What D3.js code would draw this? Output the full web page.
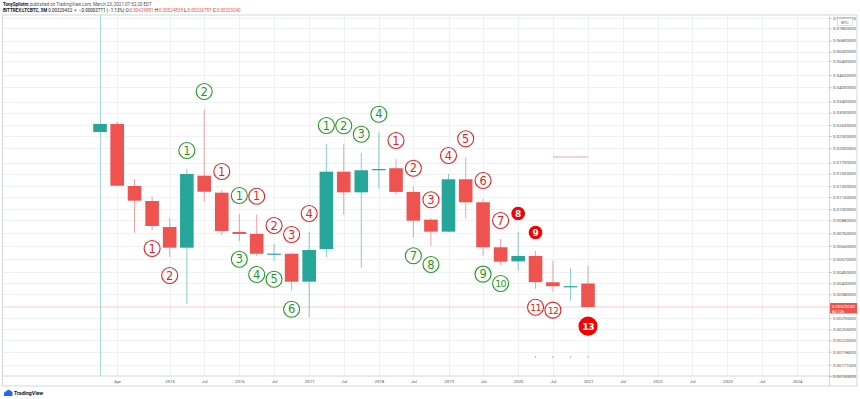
<!DOCTYPE html>
<html>
<head>
<meta charset="utf-8">
<script src="https://cdn.jsdelivr.net/npm/d3@7"></script>
<style>
  body { margin: 0; background: #fff; }
  svg { display: block; font-family: Roboto, "Noto Sans", sans-serif; }
</style>
</head>
<body>
<svg id="chart"></svg>
<script>
// quarterly bars, BITTREX:LTCBTC
var quarters = ["2014-01","2014-04","2014-07","2014-10","2015-01","2015-04","2015-07","2015-10",
  "2016-01","2016-04","2016-07","2016-10","2017-01","2017-04","2017-07","2017-10",
  "2018-01","2018-04","2018-07","2018-10","2019-01","2019-04","2019-07","2019-10",
  "2020-01","2020-04","2020-07","2020-10","2021-01"];
var opens  = [0.02405,0.02634,0.01302,0.01098,0.00817,0.00646,0.01464,0.01207,
  0.00772,0.00755,0.00602,0.00603,0.00439,0.00636,0.01532,0.01212,
  0.01557,0.01593,0.01217,0.00888,0.00775,0.01405,0.01082,0.00649,
  0.00553,0.00588,0.00436,0.004165,0.00429881];
var highs  = [0.02640,0.02716,0.01410,0.01153,0.00905,0.01580,0.03089,0.01244,
  0.00947,0.00940,0.00674,0.00608,0.00772,0.02099,0.02092,0.01901,
  0.02386,0.01770,0.01292,0.00902,0.01492,0.01804,0.01123,0.00713,
  0.00772,0.00622,0.00557,0.00511,0.00524838];
var lows   = [0.02400,0.01300,0.00766,0.00790,0.00581,0.00341,0.01089,0.00746,
  0.00699,0.00588,0.00557,0.00396,0.00294,0.00581,0.00937,0.00515,
  0.01263,0.01180,0.00727,0.00659,0.00772,0.00902,0.00590,0.00531,
  0.00497,0.00405,0.00392,0.00354,0.00326787];
var closes = [0.02634,0.01306,0.01102,0.00827,0.00646,0.01492,0.01220,0.00781,
  0.00755,0.00603,0.00604,0.00439,0.00629,0.01532,0.01212,0.01557,
  0.01580,0.01217,0.00878,0.00775,0.01405,0.01082,0.00649,0.00551,
  0.00588,0.00437,0.00417,0.004172,0.0032924];

// TD sequential counts: [bar number (1 based), count, colour]
var tdAbove = [[6,"1","g"],[7,"2","g"],[8,"1","r"],[9,"1","g"],[10,"1","r"],[11,"2","r"],
  [12,"3","r"],[13,"4","r"],[14,"1","g"],[15,"2","g"],[16,"3","g"],[17,"4","g"],
  [18,"1","r"],[19,"2","r"],[20,"3","r"],[21,"4","r"],[22,"5","r"],[23,"6","r"],
  [24,"7","r"],[25,"8","rf"],[26,"9","rf"]];
var tdBelow = [[4,"1","r"],[5,"2","r"],[9,"3","g"],[10,"4","g"],[11,"5","g"],[12,"6","g"],
  [19,"7","g"],[20,"8","g"],[23,"9","g"],[24,"10","g"],[26,"11","r"],[27,"12","r"],
  [29,"13","rfb"]];

var priceTicks = [0.088,0.078,0.068,0.060,0.054,0.046,0.040,0.034,0.030,0.026,0.023,0.020,
  0.017,0.015,0.013,0.0115,0.010,0.0088,0.0076,0.0066,0.0057,0.0049,0.0043,0.0038,
  0.0029,0.00255,0.00225,0.00198,0.00171,0.0015];
var timeTicks = ["2014-04","2015-01","2015-07","2016-01","2016-07","2017-01","2017-07","2018-01",
  "2018-07","2019-01","2019-07","2020-01","2020-07","2021-01","2021-07","2022-01","2022-07",
  "2023-01","2023-07","2024-01"];
var timeLabels = ["Apr","2015","Jul","2016","Jul","2017","Jul","2018","Jul","2019","Jul","2020",
  "Jul","2021","Jul","2022","Jul","2023","Jul","2024"];

// drawings on the chart
var levelLine = {from: "2020-07", to: "2021-01", value: 0.0181};
var dotQuarters = ["2020-07","2020-10","2020-12","2021-01"];
var dotValue = 0.001866;
var lastPrice = 0.0032924;

//layout conf.
var svgWidth = 860, svgHeight = 399,
    panel = {left: 2.5, right: 829.5, top: 15, bottom: 376},
    axisBottom = 386, outerRight = 857;

var parse = d3.timeParse("%Y-%m");
var UP = "#26a69a", DOWN = "#ef5350", GRID = "#eef1f6", TXT = "#50535e";
var TD_COL = {g: "#1f9a1f", r: "#f01c1c", rf: "#f50000", rfb: "#f50000"};

var x = d3.scaleTime()
    .domain([parse("2014-01"), parse("2024-01")])
    .range([100, 797]);
var y = d3.scaleLog()
    .domain([0.001503, 0.0909])
    .range([panel.bottom, panel.top]);

var bars = quarters.map(function(q, i) {
  return {date: parse(q), o: opens[i], h: highs[i], l: lows[i], c: closes[i]};
});

var svg = d3.select("#chart").attr("width", svgWidth).attr("height", svgHeight);
svg.append("rect").attr("width", svgWidth).attr("height", svgHeight).attr("fill", "#fff");

var clip = svg.append("clipPath").attr("id", "pane").append("rect")
    .attr("x", panel.left).attr("y", panel.top)
    .attr("width", panel.right - panel.left).attr("height", panel.bottom - panel.top);

// grid
var grid = svg.append("g").attr("clip-path", "url(#pane)");
grid.selectAll(".hg").data(priceTicks).enter().append("line")
    .attr("x1", panel.left).attr("x2", panel.right)
    .attr("y1", function(d){ return Math.round(y(d)) + 0.5; })
    .attr("y2", function(d){ return Math.round(y(d)) + 0.5; })
    .attr("stroke", GRID);
grid.selectAll(".vg").data(timeTicks).enter().append("line")
    .attr("x1", function(d){ return Math.round(x(parse(d))) + 0.5; })
    .attr("x2", function(d){ return Math.round(x(parse(d))) + 0.5; })
    .attr("y1", panel.top).attr("y2", panel.bottom)
    .attr("stroke", GRID);

// vertical marker at the first bar
grid.append("line")
    .attr("x1", Math.round(x(bars[0].date)) + 0.5).attr("x2", Math.round(x(bars[0].date)) + 0.5)
    .attr("y1", panel.top).attr("y2", panel.bottom)
    .attr("stroke", "#a6dcd7").attr("stroke-width", 1);

// last price line
grid.append("line")
    .attr("x1", panel.left).attr("x2", panel.right)
    .attr("y1", y(lastPrice)).attr("y2", y(lastPrice))
    .attr("stroke", DOWN).attr("stroke-opacity", 0.3);

// level line and dots
grid.append("line")
    .attr("x1", x(parse(levelLine.from))).attr("x2", x(parse(levelLine.to)))
    .attr("y1", y(levelLine.value)).attr("y2", y(levelLine.value))
    .attr("stroke", "#f08a8a").attr("stroke-width", 0.8);
grid.selectAll(".dot").data(dotQuarters).enter().append("circle")
    .attr("cx", function(d, i){ return x(bars[25 + i].date); })
    .attr("cy", y(dotValue)).attr("r", 0.7).attr("fill", "#9a9ca5");

// candles
var bodyW = 13.6;
var candles = grid.selectAll(".candle").data(bars).enter().append("g");
candles.append("line")
    .attr("x1", function(d){ return x(d.date); })
    .attr("x2", function(d){ return x(d.date); })
    .attr("y1", function(d){ return y(d.h); })
    .attr("y2", function(d){ return y(d.l); })
    .attr("stroke", function(d){ return d.c >= d.o ? UP : DOWN; })
    .attr("stroke-opacity", 0.55);
candles.append("rect")
    .attr("x", function(d){ return x(d.date) - bodyW/2; })
    .attr("width", bodyW)
    .attr("y", function(d){ return y(Math.max(d.o, d.c)); })
    .attr("height", function(d){ return Math.max(1.2, Math.abs(y(d.o) - y(d.c))); })
    .attr("fill", function(d){ return d.c >= d.o ? UP : DOWN; });

// TD counts
var tdOffset = 18.5;
function drawTd(list, above) {
  var g = svg.selectAll(null).data(list).enter().append("g")
    .attr("transform", function(d){
      var b = bars[d[0] - 1];
      var cy = above ? y(b.h) - tdOffset : y(b.l) + tdOffset;
      return "translate(" + [x(b.date), cy] + ")";
    });
  g.append("circle")
    .attr("r", function(d){ return d[2] === "rf" ? 6.3 : (d[2] === "rfb" ? 9 : 8); })
    .attr("fill", function(d){ return d[2].indexOf("rf") === 0 ? TD_COL[d[2]] : "#fff"; })
    .attr("stroke", function(d){ return TD_COL[d[2]]; })
    .attr("stroke-width", 1.1);
  g.append("text")
    .attr("text-anchor", "middle")
    .attr("dy", "0.36em")
    .attr("font-family", "'DejaVu Sans', sans-serif")
    .attr("font-size", function(d){
      if (d[2] === "rf") return 9;
      return d[1].length > 1 ? 9.5 : 11.5;
    })
    .attr("font-weight", function(d){ return d[2].indexOf("rf") === 0 ? "bold" : "normal"; })
    .attr("letter-spacing", function(d){ return d[1].length > 1 ? -0.8 : 0; })
    .attr("fill", function(d){ return d[2].indexOf("rf") === 0 ? "#fff" : TD_COL[d[2]]; })
    .text(function(d){ return d[1]; });
}
drawTd(tdAbove, true);
drawTd(tdBelow, false);

// frame
var frame = svg.append("g").attr("fill", "none").attr("stroke", "#c9ccd4").attr("stroke-width", 0.8);
frame.append("rect").attr("x", panel.left).attr("y", panel.top)
    .attr("width", outerRight - panel.left).attr("height", axisBottom - panel.top);
frame.append("line").attr("x1", panel.left).attr("x2", outerRight)
    .attr("y1", panel.bottom).attr("y2", panel.bottom);
frame.append("line").attr("x1", panel.right).attr("x2", panel.right)
    .attr("y1", panel.top).attr("y2", axisBottom);

// price axis
var yAxis = svg.append("g")
    .attr("transform", "translate(" + panel.right + ",0)")
    .call(d3.axisRight(y).tickValues(priceTicks).tickFormat(d3.format(".8f")).tickSize(2).tickPadding(1.5));
yAxis.select(".domain").remove();
yAxis.selectAll("line").attr("stroke", "#b2b5be");
yAxis.selectAll("text").attr("font-size", 4.3).attr("fill", TXT).attr("font-family", "Roboto, sans-serif");

// time axis
var xAxis = svg.append("g")
    .attr("transform", "translate(0," + panel.bottom + ")")
    .call(d3.axisBottom(x).tickValues(timeTicks.map(parse))
      .tickFormat(function(d, i){ return timeLabels[i]; }).tickSize(0).tickPadding(3.5));
xAxis.select(".domain").remove();
xAxis.selectAll("text").attr("font-size", 4.3).attr("fill", TXT).attr("font-family", "Roboto, sans-serif");

// BTC box
svg.append("rect").attr("x", 837.5).attr("y", 18.5).attr("width", 15).attr("height", 7)
    .attr("fill", "#fff").attr("stroke", "#c9ccd4").attr("stroke-width", 0.6);
svg.append("text").attr("x", 845).attr("y", 23.6).attr("text-anchor", "middle")
    .attr("font-size", 4).attr("fill", TXT).text("BTC");

// last price tag
var tagY = y(lastPrice);
svg.append("rect").attr("x", panel.right + 0.5).attr("y", tagY - 4)
    .attr("width", 27).attr("height", 10.5).attr("fill", DOWN);
svg.append("text").attr("x", panel.right + 2.5).attr("y", tagY + 1.5)
    .attr("font-size", 4.3).attr("fill", "#fff").text(d3.format(".8f")(0.0032924));
svg.append("text").attr("x", panel.right + 2.5).attr("y", tagY + 5.6)
    .attr("font-size", 4).attr("fill", "#fff").text("8d 12h");

// header
var h1 = svg.append("text").attr("x", 3).attr("y", 5.6).attr("font-size", 4.5).attr("fill", "#131722");
h1.append("tspan").attr("font-weight", "bold").text("TonySpilotro");
h1.append("tspan").attr("fill", TXT).text(" published on TradingView.com, March 23, 2021 07:52:20 EDT");

var h2 = svg.append("text").attr("x", 3).attr("y", 12).attr("font-size", 4.5).attr("fill", "#131722");
var parts = [
  ["BITTREX:LTCBTC, 3M ", "#131722", "bold"],
  ["0.00329432 ", "#131722"], ["\u25BC ", DOWN], ["\u22120.00003771 (\u22121.13%) ", "#131722"],
  ["O:", "#131722"], ["0.00429881 ", DOWN], ["H:", "#131722"], ["0.00524838 ", DOWN],
  ["L:", "#131722"], ["0.00326787 ", DOWN], ["C:", "#131722"], ["0.00329240", DOWN]
];
parts.forEach(function(p){
  h2.append("tspan").attr("fill", p[1]).attr("font-weight", p[2] || "normal").text(p[0]);
});

// logo
var logo = svg.append("g").attr("transform", "translate(3,388)");
logo.append("path")
    .attr("d", "M1,8 L1,5.5 A2,2 0 0 1 3,3.6 A2.6,2.6 0 0 1 7.6,3 A2,2 0 0 1 9.5,5.4 L9.5,8 Z")
    .attr("fill", "#2962ff");
logo.append("text").attr("x", 11).attr("y", 7.4).attr("font-size", 5.2)
    .attr("font-weight", "bold").attr("fill", "#131722").text("TradingView");
</script>
</body>
</html>
